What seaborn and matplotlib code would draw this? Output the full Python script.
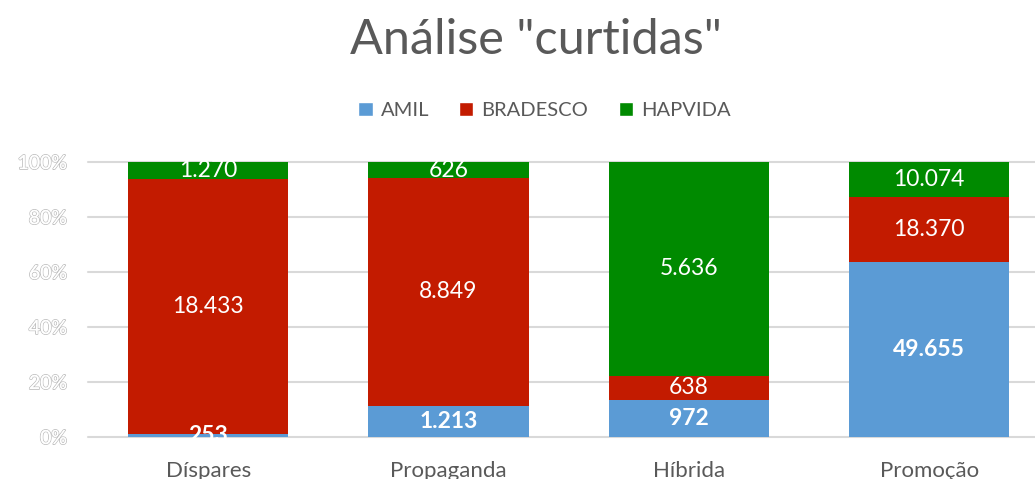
import matplotlib
matplotlib.use("Agg")
import matplotlib.pyplot as plt
import matplotlib.patheffects as pe
from matplotlib.patches import Patch
import seaborn as sns
import pandas as pd
import numpy as np

categories = ["Díspares", "Propaganda", "Híbrida", "Promoção"]
series = ["AMIL", "BRADESCO", "HAPVIDA"]
amil = [253, 1213, 972, 49655]
bradesco = [18433, 8849, 638, 18370]
hapvida = [1270, 626, 5636, 10074]
colors = {"AMIL": "#5B9BD5", "BRADESCO": "#C31B00", "HAPVIDA": "#008A00"}
yticks = [0, 0.2, 0.4, 0.6, 0.8, 1.0]
ytick_labels = ["0%", "20%", "40%", "60%", "80%", "100%"]
title = 'Análise "curtidas"'

def fmt(v):
    return f"{v:,}".replace(",", ".")

sns.set_theme(style="white")
plt.rcParams["font.family"] = ["Lato", "DejaVu Sans"]

vals = np.array([amil, bradesco, hapvida], dtype=float)
totals = vals.sum(axis=0)
frac = vals / totals
cum = np.cumsum(frac, axis=0)

fig = plt.figure(figsize=(10.35, 4.79), dpi=100)
ax = fig.add_axes([0.085, 0.0877, 0.915, 0.5741])

for y in yticks:
    ax.axhline(y, color="#D9D9D9", lw=1.5, zorder=0, clip_on=False)

# draw cumulative stacks from top series down
for i in range(len(series) - 1, -1, -1):
    df = pd.DataFrame({"cat": categories, "val": cum[i]})
    sns.barplot(data=df, x="cat", y="val", color=colors[series[i]],
                width=0.667, saturation=1, ax=ax, zorder=2, linewidth=0)

# value labels
for i, s in enumerate(series):
    for j, c in enumerate(categories):
        bottom = cum[i][j] - frac[i][j]
        mid = bottom + frac[i][j] / 2
        ax.text(j, mid, fmt(int(vals[i][j])), ha="center", va="center",
                color="white", fontsize=16.5,
                fontweight="bold" if s == "AMIL" else "normal", zorder=5)

ax.set_xlim(-0.5, 3.44)
ax.set_ylim(0, 1)
ax.set_yticks(yticks)
ax.set_yticklabels(ytick_labels)
for t in ax.get_yticklabels():
    t.set_color("white")
    t.set_fontsize(14)
    t.set_path_effects([pe.withStroke(linewidth=1.2, foreground="#BFBFBF"), pe.Normal()])
ax.tick_params(axis="y", pad=15, length=0)
ax.tick_params(axis="x", length=0, labelsize=16, labelcolor="#595959", pad=17)
ax.set_xlabel("")
ax.set_ylabel("")
for sp in ax.spines.values():
    sp.set_visible(False)

fig.text(0.518, 0.887, title, ha="center", va="baseline", fontsize=35,
         color="#595959", fontweight="normal")
handles = [Patch(facecolor=colors[s], label=s) for s in series]
fig.legend(handles=handles, loc="center", bbox_to_anchor=(0.526, 0.77), ncol=3,
           frameon=False, fontsize=14.5, labelcolor="#595959",
           handlelength=0.7, handleheight=0.7, handletextpad=0.4, columnspacing=1.5)

fig.savefig("out.png", dpi=100)
